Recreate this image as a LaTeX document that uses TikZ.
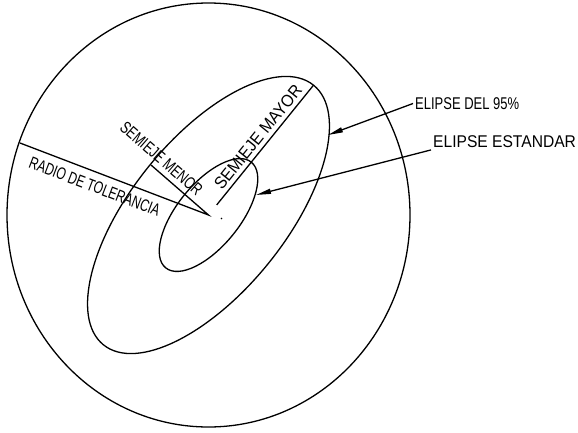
\documentclass[tikz,border=0pt]{standalone}
\usepackage{fontspec}
\setmainfont{Liberation Sans}
\usepackage{graphicx}
\usetikzlibrary{arrows.meta}
\tikzset{
  lw/.style={line width=1.3pt},
  lbl/.style={inner sep=0pt, font=\fontsize{17}{17}\selectfont},
  calloutlbl/.style={inner sep=2pt, font=\fontsize{17}{17}\selectfont},
  callout/.style={lw, -{Triangle[length=15pt,width=5pt]}},
}
\newcommand{\sxlbl}[2]{\scalebox{#1}[1]{#2}}
\begin{document}
\begin{tikzpicture}[x=1pt,y=-1pt]
\useasboundingbox (0,0) rectangle (578,432);
\coordinate (C) at (208.5,215);
\coordinate (R) at (20,143);
\coordinate (Mn) at (151,165);
\coordinate (Ms) at (216.7,204.9);
\coordinate (Mj) at (313.5,85.2);
\coordinate (T95) at (328,135);
\coordinate (TSt) at (256,195);
% tolerance circle and ellipses
\draw[lw] (C) ellipse [x radius=201.5, y radius=212];
\draw[lw] (C) ellipse [x radius=167, y radius=77, rotate=51];
\draw[lw] (C) ellipse [x radius=68, y radius=31.4, rotate=51];
% radii and semi-axes
\draw[lw] (R) -- (C) -- (Mn);
\draw[lw] (Ms) -- (Mj);
\fill (221.5,218.5) circle (0.9);
% labels
\node[lbl, rotate=-21] (radio) at (94.7,186.5) {\sxlbl{0.71}{RADIO DE TOLERANCIA}};
\node[lbl, rotate=-41] (menor) at (161.5,158.5) {\sxlbl{0.73}{SEMIEJE MENOR}};
\node[lbl, rotate=51] (mayor) at (258,137) {\sxlbl{0.93}{SEMIEJE MAYOR}};
\node[calloutlbl, anchor=west] (e95) at (413,103.5) {\sxlbl{0.764}{ELIPSE DEL 95\%}};
\node[calloutlbl, anchor=west] (est) at (431,141.7) {\sxlbl{0.918}{ELIPSE ESTANDAR}};
% callouts
\draw[callout] (e95.west) -- (T95);
\draw[callout] (est.south west) -- (TSt);
\end{tikzpicture}
\end{document}
